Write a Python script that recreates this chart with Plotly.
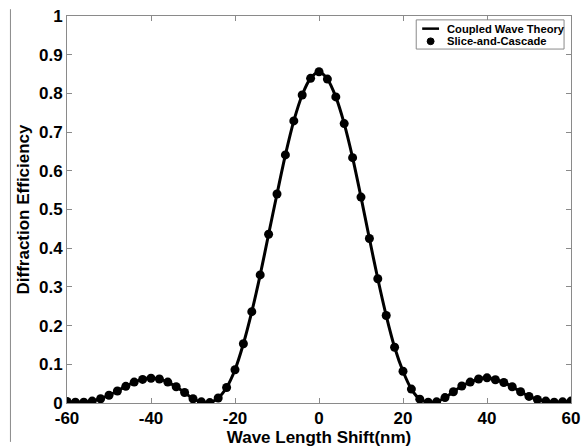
import plotly.graph_objects as go

# Wavelength shift (nm) and diffraction efficiency
shift_nm = list(range(-60, 61, 2))
efficiency = [
    0.004, 0.002, 0.002, 0.005, 0.011, 0.020, 0.031, 0.043, 0.054, 0.061,
    0.064, 0.062, 0.054, 0.042, 0.027, 0.011, 0.003, 0.001, 0.013, 0.040,
    0.086, 0.153, 0.236, 0.331, 0.436, 0.540, 0.641, 0.729, 0.796, 0.839,
    0.856,
    0.837, 0.791, 0.722, 0.634, 0.532, 0.425, 0.321, 0.226, 0.144, 0.082,
    0.036, 0.010, 0.002, 0.003, 0.014, 0.029, 0.044, 0.054, 0.062, 0.065,
    0.060, 0.053, 0.042, 0.029, 0.017, 0.009, 0.005, 0.002, 0.003, 0.005,
]
x_ticks = [-60, -40, -20, 0, 20, 40, 60]
y_ticks = [0, 0.1, 0.2, 0.3, 0.4, 0.5, 0.6, 0.7, 0.8, 0.9, 1]
y_tick_text = ["0", "0.1", "0.2", "0.3", "0.4", "0.5", "0.6", "0.7", "0.8", "0.9", "1"]
series_names = ["Coupled Wave Theory", "Slice-and-Cascade"]

W, H = 587, 447
L, R, T, B = 67, 12, 7, 42
pw, ph = W - L - R, H - T - B


def px_x(p):
    """Pixel column -> paper x."""
    return (p - L) / pw


def px_y(p):
    """Pixel row -> paper y."""
    return (T + ph - p) / ph


font = dict(family="Liberation Sans, Arial, sans-serif", color="black")
frame = "#8a8a8a"

fig = go.Figure()
fig.add_trace(go.Scatter(
    x=shift_nm, y=efficiency, mode="lines", name=series_names[0],
    line=dict(color="black", width=3, shape="spline", smoothing=0.8),
))
fig.add_trace(go.Scatter(
    x=shift_nm, y=efficiency, mode="markers", name=series_names[1],
    marker=dict(color="black", size=9, symbol="circle"),
))

axis_common = dict(
    showgrid=False, zeroline=False, showline=True, linecolor=frame, linewidth=1,
    mirror="ticks", ticks="inside", ticklen=5, tickcolor=frame, tickwidth=1,
    tickfont=dict(size=17, **font), ticklabeloverflow="allow",
)
fig.update_xaxes(
    range=[-60, 60], tickvals=x_ticks, ticktext=[f"<b>{v}</b>" for v in x_ticks],
    title=dict(text="<b>Wave Length Shift(nm)</b>", font=dict(size=17, **font), standoff=0),
    **axis_common,
)
fig.update_yaxes(
    range=[0, 1], tickvals=y_ticks, ticktext=[f"<b>{t}</b>" for t in y_tick_text],
    title=dict(text="<b>Diffraction Efficiency</b>", font=dict(size=17, **font), standoff=5),
    **axis_common,
)

# left border line of the figure canvas
fig.add_shape(type="line", xref="paper", yref="paper",
              x0=px_x(10), x1=px_x(10), y0=px_y(445), y1=px_y(0),
              line=dict(color=frame, width=1))

# legend box
lx0, lx1, ly0, ly1 = 419, 568, 11, 41
fig.add_shape(type="rect", xref="paper", yref="paper",
              x0=px_x(lx0), x1=px_x(lx1), y0=px_y(ly1), y1=px_y(ly0),
              line=dict(color=frame, width=1), fillcolor="white", layer="above")
fig.add_shape(type="line", xref="paper", yref="paper",
              x0=px_x(425), x1=px_x(442), y0=px_y(20), y1=px_y(20),
              line=dict(color="black", width=2.5), layer="above")
fig.add_shape(type="circle", xref="paper", yref="paper",
              x0=px_x(430), x1=px_x(437), y0=px_y(36.5), y1=px_y(29.5),
              line=dict(color="black", width=1), fillcolor="black", layer="above")
for name, row in zip(series_names, [20, 33]):
    fig.add_annotation(xref="paper", yref="paper", x=px_x(448), y=px_y(row),
                       xanchor="left", yanchor="middle", showarrow=False,
                       text=f"<b>{name}</b>", font=dict(size=11.2, **font))

fig.update_layout(
    width=W, height=H,
    margin=dict(l=L, r=R, t=T, b=B, pad=0),
    paper_bgcolor="white", plot_bgcolor="white",
    showlegend=False,
)

fig.write_html("out.html")
